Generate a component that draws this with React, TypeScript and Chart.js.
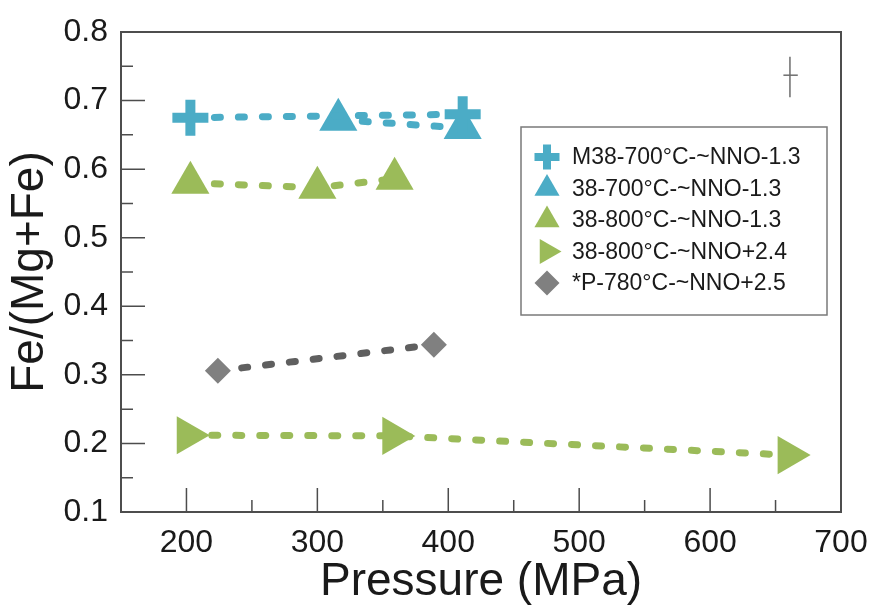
import React, { useEffect, useRef } from "react";
import { Chart, registerables } from "chart.js";
import { drawPoint } from "chart.js/helpers";

Chart.register(...registerables);

// ---- data ----
const m38X = [203, 411];
const m38Y = [0.675, 0.68];
const blue700X = [316, 411];
const blue700Y = [0.672, 0.66];
const green800X = [203, 300, 359];
const green800Y = [0.58, 0.573, 0.586];
const green800pX = [201, 358, 660];
const green800pY = [0.212, 0.211, 0.183];
const p780X = [224, 389];
const p780Y = [0.306, 0.344];
// representative error bar (top right)
const errVX = [661, 661];
const errVY = [0.764, 0.705];
const errHX = [656, 667];
const errHY = [0.737, 0.737];

const xTicks = [200, 300, 400, 500, 600, 700];
const xMinor = [250, 350, 450, 550, 650];
const yTicks = [0.1, 0.2, 0.3, 0.4, 0.5, 0.6, 0.7, 0.8];
const yMinor = [0.15, 0.25, 0.35, 0.45, 0.55, 0.65, 0.75];

const labels = [
  "M38-700°C-~NNO-1.3",
  "38-700°C-~NNO-1.3",
  "38-800°C-~NNO-1.3",
  "38-800°C-~NNO+2.4",
  "*P-780°C-~NNO+2.5",
];

const BLUE = "#4BACC6";
const GREEN = "#9BBB59";
const GRAY = "#808080";
const GRAYLINE = "#5f5f5f";
const FRAME = "#4d4d4d";
const FONT = "'Liberation Sans', Arial, sans-serif";

const pts = (xs: number[], ys: number[]) => xs.map((x, i) => ({ x, y: ys[i] }));

const dashLine = (color: string) => ({
  showLine: true,
  borderColor: color,
  borderWidth: 7,
  borderDash: [6, 18],
  borderCapStyle: "round" as const,
});

const legendIcons = [
  { pointStyle: "cross", rotation: 0, radius: 12.5, borderWidth: 8, color: BLUE },
  { pointStyle: "triangle", rotation: 0, radius: 14.5, borderWidth: 0, color: BLUE },
  { pointStyle: "triangle", rotation: 0, radius: 14.5, borderWidth: 0, color: GREEN },
  { pointStyle: "triangle", rotation: 90, radius: 14.5, borderWidth: 0, color: GREEN },
  { pointStyle: "rectRot", rotation: 0, radius: 12.5, borderWidth: 0, color: GRAY },
];

const framePlugin = {
  id: "frameTicks",
  afterDatasetsDraw(chart: any) {
    const { ctx, chartArea } = chart;
    const xs = chart.scales.x;
    const ys = chart.scales.y;
    ctx.save();
    ctx.strokeStyle = FRAME;
    ctx.lineWidth = 1.5;
    ctx.beginPath();
    xTicks.forEach((v) => {
      const p = xs.getPixelForValue(v);
      ctx.moveTo(p, chartArea.bottom);
      ctx.lineTo(p, chartArea.bottom - 24);
    });
    xMinor.forEach((v) => {
      const p = xs.getPixelForValue(v);
      ctx.moveTo(p, chartArea.bottom);
      ctx.lineTo(p, chartArea.bottom - 12);
    });
    yTicks.forEach((v) => {
      const p = ys.getPixelForValue(v);
      ctx.moveTo(chartArea.left, p);
      ctx.lineTo(chartArea.left + 24, p);
    });
    yMinor.forEach((v) => {
      const p = ys.getPixelForValue(v);
      ctx.moveTo(chartArea.left, p);
      ctx.lineTo(chartArea.left + 12, p);
    });
    ctx.stroke();
    ctx.lineWidth = 2;
    ctx.beginPath();
    ctx.moveTo(chartArea.left, chartArea.top);
    ctx.lineTo(chartArea.right, chartArea.top);
    ctx.lineTo(chartArea.right, chartArea.bottom);
    ctx.stroke();

    // legend box
    const bx = 521, by = 127, bw = 306, bh = 188;
    ctx.fillStyle = "#ffffff";
    ctx.fillRect(bx, by, bw, bh);
    ctx.strokeStyle = "#7a7a7a";
    ctx.lineWidth = 1.5;
    ctx.strokeRect(bx, by, bw, bh);
    ctx.font = `23px ${FONT}`;
    ctx.textBaseline = "middle";
    ctx.textAlign = "left";
    labels.forEach((t, i) => {
      const cy = 157 + i * 31.5;
      const ic = legendIcons[i];
      ctx.fillStyle = ic.color;
      ctx.strokeStyle = ic.color;
      ctx.lineWidth = ic.borderWidth;
      drawPoint(ctx, { pointStyle: ic.pointStyle, rotation: ic.rotation, radius: ic.radius, borderWidth: ic.borderWidth } as any, 547, cy);
      ctx.fillStyle = "#1a1a1a";
      ctx.fillText(t, 572, cy + 1);
    });
    ctx.restore();
  },
};

export default function App() {
  const ref = useRef<HTMLCanvasElement>(null);
  useEffect(() => {
    document.body.style.margin = "0";
    const canvas = ref.current!;
    const chart = new Chart(canvas, {
      type: "scatter",
      data: {
        datasets: [
          {
            label: labels[0],
            data: pts(m38X, m38Y),
            ...dashLine(BLUE),
            pointStyle: "cross",
            pointRadius: 18,
            pointBorderWidth: 10,
            pointBorderColor: BLUE,
            pointBackgroundColor: BLUE,
          },
          {
            label: labels[1],
            data: pts(blue700X, blue700Y),
            ...dashLine(BLUE),
            pointStyle: "triangle",
            pointRadius: 22,
            pointBorderWidth: 0,
            pointBackgroundColor: BLUE,
          },
          {
            label: labels[2],
            data: pts(green800X, green800Y),
            ...dashLine(GREEN),
            pointStyle: "triangle",
            pointRadius: 22,
            pointBorderWidth: 0,
            pointBackgroundColor: GREEN,
          },
          {
            label: labels[3],
            data: pts(green800pX, green800pY),
            ...dashLine(GREEN),
            pointStyle: "triangle",
            pointRotation: 90,
            pointRadius: 22,
            pointBorderWidth: 0,
            pointBackgroundColor: GREEN,
          },
          {
            label: labels[4],
            data: pts(p780X, p780Y),
            ...dashLine(GRAYLINE),
            pointStyle: "rectRot",
            pointRadius: 13,
            pointBorderWidth: 0,
            pointBackgroundColor: GRAY,
          },
          {
            label: "errV",
            data: pts(errVX, errVY),
            showLine: true,
            borderColor: "#6e6e6e",
            borderWidth: 1.5,
            pointRadius: 0,
          },
          {
            label: "errH",
            data: pts(errHX, errHY),
            showLine: true,
            borderColor: "#6e6e6e",
            borderWidth: 1.5,
            pointRadius: 0,
          },
        ],
      },
      options: {
        responsive: false,
        animation: false,
        devicePixelRatio: 1,
        layout: { padding: { top: 32, right: 29, left: 0, bottom: 0 } },
        plugins: { legend: { display: false }, tooltip: { enabled: false } },
        scales: {
          x: {
            type: "linear",
            min: 150,
            max: 700,
            afterBuildTicks: (s: any) => {
              s.ticks = xTicks.map((v) => ({ value: v }));
            },
            afterFit: (s: any) => {
              s.height = 98;
              s.paddingLeft = 0;
              s.paddingRight = 0;
            },
            grid: { display: false, drawTicks: false },
            border: { display: true, color: FRAME, width: 2 },
            ticks: {
              padding: 12,
              color: "#1a1a1a",
              font: { family: FONT, size: 32 },
              maxRotation: 0,
              callback: (v: any) => String(v),
            },
            title: {
              display: true,
              text: "Pressure (MPa)",
              color: "#1a1a1a",
              font: { family: FONT, size: 46 },
              padding: { top: 0, bottom: 0 },
            },
          },
          y: {
            type: "linear",
            min: 0.1,
            max: 0.8,
            afterBuildTicks: (s: any) => {
              s.ticks = yTicks.map((v) => ({ value: v }));
            },
            afterFit: (s: any) => {
              s.width = 121;
              s.paddingTop = 0;
              s.paddingBottom = 0;
            },
            grid: { display: false, drawTicks: false },
            border: { display: true, color: FRAME, width: 2 },
            ticks: {
              padding: 13,
              color: "#1a1a1a",
              font: { family: FONT, size: 32 },
              callback: (v: any) => Number(v).toFixed(1),
            },
            title: {
              display: true,
              text: "Fe/(Mg+Fe)",
              color: "#1a1a1a",
              font: { family: FONT, size: 46 },
              padding: { top: 3, bottom: 0 },
            },
          },
        },
      },
      plugins: [framePlugin],
    });
    return () => chart.destroy();
  }, []);
  return <canvas ref={ref} width={870} height={610} style={{ display: "block" }} />;
}
